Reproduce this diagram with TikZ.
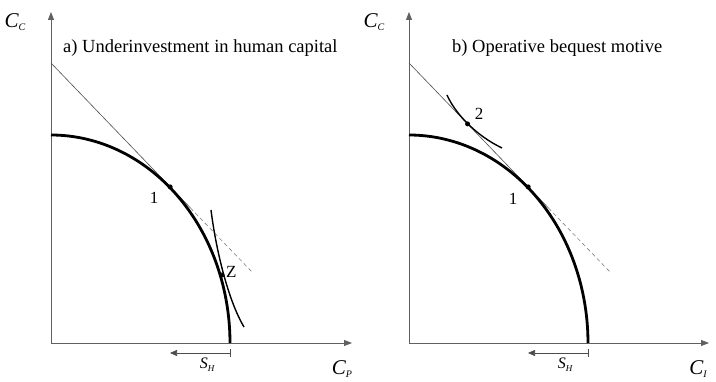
\documentclass[tikz,border=0pt]{standalone}
\usepackage{fontspec}
\setmainfont{Liberation Serif}
\usetikzlibrary{arrows.meta,calc}
\newcommand\lowsub[1]{\raisebox{-0.35ex}{\fontsize{10}{10}\selectfont\itshape #1}}
\newcommand\smallsub[1]{\raisebox{-0.45ex}{\fontsize{9}{9}\selectfont\itshape #1}}
\begin{document}
\begin{tikzpicture}[x=1pt,y=-1pt,
 axis/.style={draw=gray!75!black, line width=0.8pt, -{Triangle[length=8pt,width=6pt]}},
 frontier/.style={line width=2.8pt},
 budget/.style={draw=gray!60!black, line width=0.6pt},
 budgetdash/.style={draw=gray, line width=0.6pt, dash pattern=on 4pt off 3pt},
 indiff/.style={line width=1.4pt},
 dot/.style={circle, fill=black, inner sep=0pt, minimum size=5pt},
 lbl/.style={font=\fontsize{17}{20}\selectfont, inner sep=0pt},
 paneltitle/.style={font=\fontsize{18.5}{22}\selectfont, inner sep=0pt, anchor=west},
 axlbl/.style={font=\fontsize{21}{24}\selectfont\itshape, inner sep=0pt},
 shlbl/.style={font=\fontsize{16}{18}\selectfont\itshape, inner sep=0pt},
 sharrow/.style={draw=gray!60!black, line width=0.7pt, -{Triangle[length=7pt,width=6pt]}},
 shtick/.style={draw=gray!60!black, line width=0.7pt}
]
\useasboundingbox (0,0) rectangle (716,382);
% ---------------- panel a ----------------
\coordinate (Oa) at (51,343);
\coordinate (Ya) at (51,12);
\coordinate (Xa) at (352,343);
\draw[axis] (Oa) -- (Ya);
\draw[axis] (Oa) -- (Xa);
\node[axlbl] (CCa) at (15,22) {C\lowsub{C}};
\node[axlbl] (CPa) at (342,369) {C\lowsub{P}};
\node[paneltitle] (Ta) at (63,48) {a) Underinvestment in human capital};
\coordinate (Ba) at (51,63);
\coordinate (Ea) at (253,273);
\coordinate (P1a) at ($(Ba)!0.59!(Ea)$);
\coordinate (Ma) at ($(Ba)!0.69!(Ea)$);
\draw[budget] (Ba) -- (Ma);
\draw[budgetdash] (Ma) -- (Ea);
\draw[frontier] plot[domain=90:0, samples=80, smooth] ({51+179*cos(\x)},{343-208*sin(\x)});
\coordinate (I1a) at (211,210);
\coordinate (I2a) at (244,327);
\draw[indiff] (I1a) .. controls (216,250) and (228,300) .. (I2a);
\node[dot] (D1a) at (P1a) {};
\node[dot] (Za) at (222,275) {};
\node[lbl, anchor=west] (ZLa) at (226,272) {Z};
\node[lbl] (L1a) at (154,198) {1};
\coordinate (SHa1) at (230,353);
\coordinate (SHa2) at (170,353);
\draw[shtick] (230,349) -- (230,357);
\draw[sharrow] (SHa1) -- (SHa2);
\node[shlbl] (SHa) at (207,365) {S\smallsub{H}};
% ---------------- panel b ----------------
\coordinate (Ob) at (409,343);
\coordinate (Yb) at (409,12);
\coordinate (Xb) at (709,343);
\draw[axis] (Ob) -- (Yb);
\draw[axis] (Ob) -- (Xb);
\node[axlbl] (CCb) at (374,22) {C\lowsub{C}};
\node[axlbl] (CIb) at (698,369) {C\lowsub{I}};
\node[paneltitle] (Tb) at (452,48) {b) Operative bequest motive};
\coordinate (Bb) at (409,63);
\coordinate (Eb) at (611,273);
\coordinate (P1b) at ($(Bb)!0.59!(Eb)$);
\coordinate (Mb) at ($(Bb)!0.69!(Eb)$);
\coordinate (P2b) at ($(Bb)!0.29!(Eb)$);
\draw[budget] (Bb) -- (Mb);
\draw[budgetdash] (Mb) -- (Eb);
\draw[frontier] plot[domain=90:0, samples=80, smooth] ({409+179*cos(\x)},{343-208*sin(\x)});
\coordinate (I1b) at (447,95);
\coordinate (I2b) at (502,148);
\draw[indiff] (I1b) .. controls (455,113) and (475,135) .. (I2b);
\node[dot] (D1b) at (P1b) {};
\node[dot] (D2b) at (P2b) {};
\node[lbl] (L2b) at (479,114) {2};
\node[lbl] (L1b) at (513,199) {1};
\coordinate (SHb1) at (588,353);
\coordinate (SHb2) at (528,353);
\draw[shtick] (588,349) -- (588,357);
\draw[sharrow] (SHb1) -- (SHb2);
\node[shlbl] (SHb) at (565,365) {S\smallsub{H}};
\end{tikzpicture}
\end{document}
